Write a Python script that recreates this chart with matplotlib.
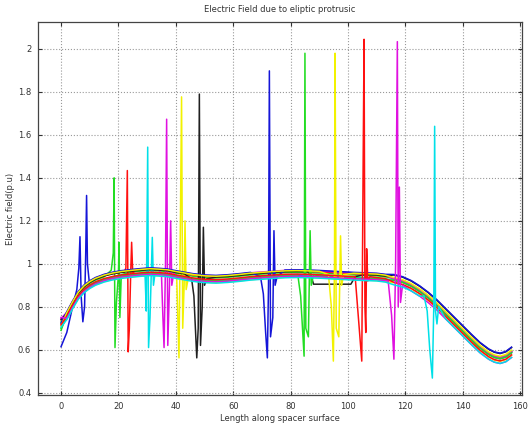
import numpy as np
import matplotlib.pyplot as plt

# common field profile along the spacer (length, E in p.u.)
base_x = [0, 2, 4, 6, 8, 10, 12, 15, 18, 21, 25, 28, 31, 34, 37, 40, 43, 46,
          50, 54, 58, 62, 66, 70, 74, 78, 82, 86, 90, 94, 98, 102, 106, 110,
          113, 116, 119, 122, 125, 128, 131, 134, 137, 140, 143, 146, 149,
          151, 153, 155, 157]
base_y = [0.72, 0.76, 0.81, 0.855, 0.885, 0.905, 0.92, 0.935, 0.945, 0.952,
          0.958, 0.962, 0.965, 0.963, 0.96, 0.952, 0.945, 0.938, 0.932, 0.93,
          0.933, 0.938, 0.944, 0.948, 0.952, 0.955, 0.956, 0.955, 0.953,
          0.95, 0.947, 0.944, 0.942, 0.94, 0.935, 0.928, 0.918, 0.90, 0.875,
          0.845, 0.81, 0.77, 0.73, 0.69, 0.65, 0.612, 0.582, 0.568, 0.562,
          0.57, 0.59]

colors = ['b', 'g', 'r', 'c', 'm', 'y', 'k', 'b', 'g', 'y', 'r', 'm', 'c']
lifts = [-0.012, 0.004, 0.010, -0.006, 0.014, -0.018, 0.008,
         0.016, -0.010, 0.012, -0.004, -0.014, -0.020]
tails = [0.008, 0.0, -0.008, 0.004, -0.012, 0.002, 0.012,
         0.006, 0.006, -0.004, -0.010, -0.012, -0.006]
heads = [[0.614, 0.68], [0.69], [0.72], [0.73], [0.745], [0.735], [0.74],
         [0.725], [0.70], [0.71], [0.715], [0.75], [0.705]]

# protrusion disturbances: (length, field) points for each curve
spikes = [
    [[(5.5, 0.88), (6.2, 0.98), (6.6, 1.126), (7.0, 0.85), (7.6, 0.73),
      (8.2, 0.80), (8.6, 1.05), (8.9, 1.318), (9.2, 1.0), (9.8, 0.92)]],
    [[(17.5, 0.97), (18.2, 1.05), (18.5, 1.40), (18.8, 0.61), (19.3, 0.82),
      (20.0, 0.95), (20.2, 1.10), (20.5, 0.75), (21.0, 0.95)]],
    [[(22.0, 0.96), (22.6, 0.98), (23.1, 1.434), (23.4, 0.59), (23.8, 0.70),
      (24.3, 0.97), (24.6, 1.10), (25.0, 0.95), (25.6, 0.97)]],
    [[(29.3, 0.94), (29.7, 0.78), (30.2, 1.543), (30.5, 0.61), (31.0, 0.75),
      (31.5, 0.98), (31.8, 1.123), (32.2, 0.90), (32.8, 0.96)]],
    [[(35.0, 0.95), (35.5, 0.75), (35.9, 0.61), (36.4, 1.0), (36.8, 1.673),
      (37.2, 0.62), (37.8, 0.90), (38.2, 1.20), (38.6, 0.90), (39.2, 0.95)]],
    [[(40.3, 0.94), (40.7, 0.75), (41.1, 0.562), (41.6, 1.20), (42.0, 1.777),
      (42.4, 0.70), (42.9, 0.90), (43.2, 1.20), (43.6, 0.88), (44.3, 0.93)]],
    [[(45.5, 0.93), (46.3, 0.85), (47.3, 0.562), (47.8, 0.70), (48.2, 1.79),
      (48.6, 0.62), (49.2, 0.80), (49.6, 1.17), (50.0, 0.90), (50.8, 0.93)],
     [(87.0, 0.95), (88.0, 0.905), (101.0, 0.905), (102.5, 0.94)]],
    [[(69.5, 0.94), (70.5, 0.86), (71.3, 0.68), (71.9, 0.562), (72.3, 0.90),
      (72.6, 1.898), (73.0, 0.66), (73.8, 0.75), (74.2, 1.154), (74.6, 0.90),
      (75.3, 0.94)]],
    [[(82.5, 0.95), (83.5, 0.85), (84.7, 0.57), (85.0, 1.98), (85.3, 0.70),
      (86.2, 0.66), (86.8, 1.154), (87.2, 0.90), (88.0, 0.95)]],
    [[(93.2, 0.95), (94.2, 0.80), (94.9, 0.547), (95.3, 1.0), (95.5, 1.98),
      (95.9, 0.70), (96.8, 0.66), (97.4, 1.13), (97.8, 0.90), (98.5, 0.95)]],
    [[(102.5, 0.94), (103.8, 0.72), (104.8, 0.547), (105.3, 1.5),
      (105.6, 2.045), (105.9, 0.80), (106.2, 0.68), (106.5, 1.07),
      (106.9, 0.92), (107.6, 0.94)]],
    [[(114.0, 0.92), (115.2, 0.76), (116.0, 0.556), (116.6, 1.0),
      (117.2, 2.034), (117.5, 0.80), (117.9, 1.357), (118.3, 0.82),
      (119.0, 0.90)]],
    [[(126.5, 0.85), (127.6, 0.78), (128.5, 0.60), (129.4, 0.468),
      (129.9, 0.80), (130.2, 1.64), (130.5, 0.78), (131.0, 0.72),
      (131.6, 0.80)]],
]

line_colors = {'b': '#1515d8', 'g': '#22dd22', 'r': '#ff1010',
               'c': '#00e0e8', 'm': '#e010e0', 'y': '#f2f200',
               'k': '#202020'}


def build_curve(lift, tail, head, groups):
    x = np.array(base_x, dtype=float)
    y = np.array(base_y) + lift
    y[x >= 116] += tail
    y[:len(head)] = head
    keep = np.ones(len(x), bool)
    sx, sy = [], []
    for g in groups:
        gx = [p[0] for p in g]
        # base points under a disturbance are replaced by it
        keep &= ~((x >= gx[0]) & (x <= gx[-1]))
        sx += gx
        sy += [p[1] for p in g]
    x = np.concatenate([x[keep], sx])
    y = np.concatenate([y[keep], sy])
    order = np.argsort(x)
    return x[order], y[order]


fig = plt.figure(figsize=(5.29, 4.25), dpi=100)
ax = fig.add_axes([0.072, 0.071, 0.914, 0.877])

for c, lift, tail, head, groups in zip(colors, lifts, tails, heads, spikes):
    cx, cy = build_curve(lift, tail, head, groups)
    ax.plot(cx, cy, color=line_colors[c], lw=1.1)

ax.set_xlim(-8, 160.5)
ax.set_ylim(0.39, 2.125)
ax.set_xticks(np.arange(0, 161, 20))
ax.set_yticks([0.4, 0.6, 0.8, 1, 1.2, 1.4, 1.6, 1.8, 2])
ax.set_yticklabels(['0.4', '0.6', '0.8', '1', '1.2', '1.4', '1.6', '1.8', '2'])
ax.grid(True, ls=':', color='#999999', lw=0.8)
ax.tick_params(direction='in', labelsize=6, colors='#333333', length=3,
               top=True, right=True, pad=5)
for s in ax.spines.values():
    s.set_color('#444444')
    s.set_linewidth(0.9)

ax.set_title('Electric Field due to eliptic protrusic', fontsize=6,
             color='#333333', pad=7)
ax.set_xlabel('Length along spacer surface', fontsize=6, color='#333333',
              labelpad=2)
ax.set_ylabel('Electric field(p.u)', fontsize=6, color='#333333', labelpad=2)

fig.savefig('out.png', dpi=100)
